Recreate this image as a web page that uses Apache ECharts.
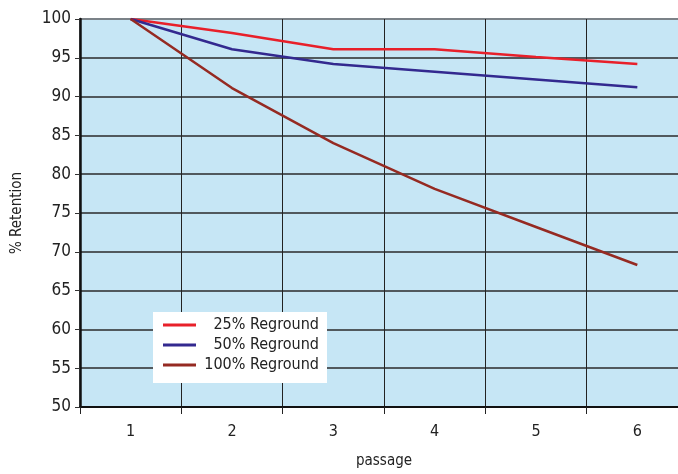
<!DOCTYPE html>
<html>
<head>
<meta charset="utf-8">
<script src="https://cdn.jsdelivr.net/npm/echarts@6/dist/echarts.min.js"></script>
<style>
  html, body { margin: 0; padding: 0; background: #fff; overflow: hidden; }
  #chart { width: 678px; height: 474px; }
</style>
</head>
<body>
<div id="chart"></div>
<script>
// Passage numbers along the x axis
const passages = ['1', '2', '3', '4', '5', '6'];

// % retention per passage for each regrind level
const regrind25 = [100, 98.2, 96.1, 96.1, 95.1, 94.2];
const regrind50 = [100, 96.1, 94.2, 93.2, 92.2, 91.2];
const regrind100 = [100, 91.1, 84.0, 78.1, 73.2, 68.3];

const seriesNames = ['25% Reground', '50% Reground', '100% Reground'];
const seriesColors = ['#e8202a', '#33298f', '#952a22'];

const FONT = '"Liberation Sans Narrow", "DejaVu Sans Condensed", "Roboto", sans-serif';

// Horizontal grid lines: dark, except the top (100) which forms the grey frame
const hLineColors = [];
for (let v = 50; v <= 100; v += 5) hLineColors.push(v === 100 ? '#7b8289' : '#2a2a2a');

const chart = echarts.init(document.getElementById('chart'));

const mkSeries = (name, data, color) => ({
  name: name,
  type: 'line',
  data: data,
  symbol: 'none',
  lineStyle: { color: color, width: 2.5 },
  itemStyle: { color: color },
  z: 5
});

chart.setOption({
  animation: false,
  backgroundColor: '#ffffff',
  grid: {
    left: 80, top: 19, width: 608, bottom: 67,
    outerBoundsMode: 'none',
    show: true,
    backgroundColor: '#c6e6f5',
    borderColor: '#7b8289',
    borderWidth: 2
  },
  legend: {
    left: 153, top: 312,
    orient: 'vertical',
    backgroundColor: '#ffffff',
    padding: [5, 8, 10, 10],
    itemWidth: 33,
    itemHeight: 3,
    itemGap: 4,
    icon: 'rect',
    data: seriesNames,
    formatter: name => '{t|' + name + '}',
    textStyle: {
      fontFamily: FONT, fontSize: 16, color: '#222',
      rich: {
        t: { fontFamily: FONT, fontSize: 16, color: '#222', width: 118, align: 'right' }
      }
    }
  },
  xAxis: {
    type: 'category',
    data: passages,
    boundaryGap: true,
    name: 'passage',
    nameLocation: 'middle',
    nameGap: 47,
    nameTextStyle: { fontFamily: FONT, fontSize: 15, color: '#222' },
    axisLine: { lineStyle: { color: '#111', width: 2 } },
    axisTick: { show: true, length: 7, lineStyle: { color: '#222' } },
    axisLabel: { fontFamily: FONT, fontSize: 16, color: '#222', margin: 17 },
    splitLine: { show: true, lineStyle: { color: '#222', width: 1 } }
  },
  yAxis: {
    type: 'value',
    min: 50, max: 100, interval: 5,
    name: '% Retention',
    nameLocation: 'middle',
    nameGap: 55,
    nameTextStyle: { fontFamily: FONT, fontSize: 15, color: '#222' },
    axisLine: { show: true, lineStyle: { color: '#111', width: 2.5 } },
    axisTick: { show: true, length: 5, lineStyle: { color: '#333' } },
    axisLabel: { fontFamily: FONT, fontSize: 17, color: '#222', margin: 9 },
    splitLine: { show: true, lineStyle: { color: hLineColors, width: 1.5 } }
  },
  series: [
    mkSeries(seriesNames[0], regrind25, seriesColors[0]),
    mkSeries(seriesNames[1], regrind50, seriesColors[1]),
    mkSeries(seriesNames[2], regrind100, seriesColors[2])
  ]
});
</script>
</body>
</html>
